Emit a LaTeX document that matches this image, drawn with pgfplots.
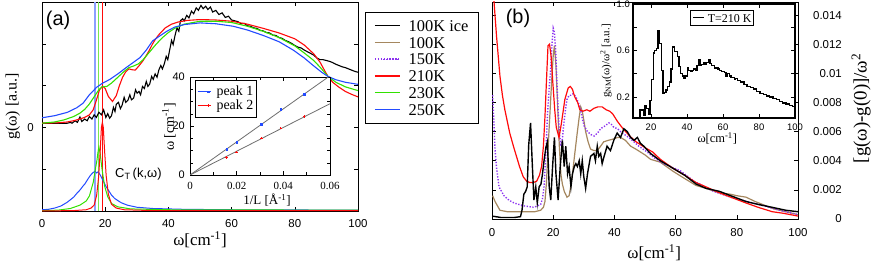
\documentclass[border=0pt]{standalone}
\usepackage{fontspec}
\setmainfont{Liberation Serif}
\setsansfont{Liberation Sans}
\usepackage{pgfplots}
\pgfplotsset{compat=1.18}
\definecolor{ctan}{RGB}{165,135,95}
\definecolor{cpurp}{RGB}{140,50,240}
\definecolor{cgreen}{RGB}{50,225,0}
\definecolor{cblue}{RGB}{35,75,255}
\definecolor{cred}{RGB}{255,10,10}
\definecolor{lblue}{RGB}{140,160,255}
\definecolor{lgreen}{RGB}{120,230,80}
\definecolor{cgray}{RGB}{110,110,110}
\begin{document}
\begin{tikzpicture}
\useasboundingbox (0,0) rectangle (872bp,269bp);
% ================= panel (a) =================
\begin{axis}[at={(42bp,58bp)}, anchor=south west, scale only axis,
  width=316bp, height=209bp,
  xmin=0, xmax=100, ymin=-2, ymax=3,
  axis line style={line width=0.8bp},
  xtick={0,20,40,60,80,100}, xticklabels={0,20,40,60,80,100},
  ytick={-2,-1,0,1,2,3}, yticklabels={,,0,,,},
  tick style={line width=0.6bp, black},
  tick label style={font=\sffamily\fontsize{11.5}{12}\selectfont},
  xticklabel style={anchor=base, yshift=-16bp, inner sep=0pt},
  yticklabel style={anchor=east, xshift=-8bp, inner sep=0pt},
  every axis x label/.style={at={(axis description cs:0.5,-0.139)}, anchor=center},
  every axis y label/.style={at={(axis description cs:-0.092,0.5)}, rotate=90, anchor=center},
  xlabel={\fontsize{17}{18}\selectfont ω[cm\textsuperscript{-1}]},
  ylabel={\fontsize{16}{17}\selectfont g(ω) [a.u.]},
  legend image code/.code={\path (0bp,0bp) -- (25bp,0bp); \draw[line width=1.3bp,#1] (8bp,0bp) -- (25bp,0bp);},
  legend style={at={(1.022,0.954)}, anchor=north west, draw=black,
    font=\fontsize{16.5}{17}\selectfont, inner xsep=9bp, inner ysep=7bp,
    nodes={inner sep=1bp, text height=11.5bp, text depth=0bp},
    row sep=3.3bp, column sep=7bp, cells={anchor=west}},
]
% vertical lines
\addplot[forget plot, lblue, line width=1.1bp] coordinates {(16.5,-2) (16.5,3)};
\addplot[forget plot, lblue, line width=1.1bp] coordinates {(17.0,-2) (17.0,3)};
\addplot[forget plot, lgreen, line width=1.1bp] coordinates {(17.9,-2) (17.9,3)};
\addplot[forget plot, cred, line width=1.0bp] coordinates {(19.2,-2) (19.2,3)};
% g(omega) 100K ice
\addplot[forget plot, black, line width=1.1bp] coordinates {
(0,0.1) (8,0.1) (9,0.12) (9.5,0.1) (10.5,0.16) (11.2,0.12) (12,0.25) (12.6,0.14) (13.5,0.2) (14.3,0.16) (15,0.26) (15.8,0.2) (16.5,0.3) (17.2,0.24) (18,0.36) (18.8,0.3) (19.5,0.42) (20.2,0.24) (20.8,0.33) (21.4,0.22) (22,0.28) (22.6,0.48) (23.1,0.38) (23.5,0.55) (24.2,0.6) (24.8,0.45) (25.3,0.52) (26,0.72) (26.5,0.6) (27.2,0.65) (27.8,0.78) (28.3,0.66) (29,0.7) (29.6,0.9) (30.1,0.82) (30.7,0.86) (31.2,0.78) (31.8,0.98) (32.4,0.93) (33,1.1) (33.5,0.98) (34.1,1.04) (34.7,1.22) (35.2,1.15) (35.8,1.28) (36.4,1.2) (37,1.38) (37.6,1.48) (38.1,1.4) (38.7,1.52) (39.3,1.7) (39.8,1.62) (40.4,1.85) (41,2.08) (41.5,1.98) (42.1,2.2) (42.7,2.38) (43.3,2.3) (43.8,2.55) (44.5,2.6) (45,2.55) (45.8,2.68) (46.5,2.62) (47.3,2.78) (48,2.72) (48.8,2.86) (49.5,2.8) (50.3,2.92) (51,2.84) (51.8,2.9) (52.5,2.82) (53.3,2.88) (54,2.76) (55,2.8) (56,2.7) (57,2.74) (58,2.63) (59,2.66) (60,2.57) (61,2.55) (62,2.53) (63,2.48) (64,2.49) (65,2.43) (66,2.42) (67,2.38) (68,2.37) (69,2.32) (70,2.31) (71,2.27) (72,2.26) (73,2.21) (74,2.2) (75,2.15) (76,2.13) (77,2.08) (78,2.05) (79,2.01) (80,1.96) (81,1.92) (82,1.9) (83,1.85) (84,1.81) (85,1.77) (86,1.73) (87,1.66) (88,1.62) (89,1.62) (90,1.6) (91,1.58) (92,1.55) (93,1.51) (94,1.48) (95,1.45) (96,1.43) (97,1.4) (98,1.37) (99,1.34) (100,1.32)};
% g(omega) 210K
\addplot[forget plot, cred, line width=1.1bp] coordinates {
(0,0.1) (5,0.11) (8,0.13) (10,0.16) (12,0.2) (13.5,0.24) (15,0.3) (16.2,0.42) (17.2,0.65) (18.2,0.9) (19.2,0.99) (20,0.93) (21,0.74) (22.3,0.62) (23.5,0.76) (24.5,1.0) (25.5,1.2) (26.5,1.33) (27.5,1.4) (28.5,1.38) (29.5,1.37) (31,1.5) (32,1.6) (33,1.72) (34,1.85) (35,2.0) (36,2.12) (37,2.22) (38,2.3) (39,2.38) (41,2.47) (43,2.52) (46,2.56) (50,2.58) (55,2.57) (60,2.54) (65,2.47) (70,2.37) (75,2.26) (80,2.12) (83,1.97) (86,1.76) (88,1.56) (89.5,1.35) (90.5,1.22) (92,1.08) (94,0.96) (96,0.86) (98,0.79) (100,0.73)};
% g(omega) 230K
\addplot[forget plot, cgreen, line width=1.1bp] coordinates {
(0,0.1) (4,0.13) (7,0.18) (10,0.26) (12,0.34) (13.5,0.43) (15,0.56) (16.5,0.73) (18,0.9) (19,0.97) (20.5,0.98) (22,1.06) (24,1.2) (26,1.34) (27.5,1.43) (29,1.47) (30.5,1.52) (32,1.62) (34,1.8) (36,1.98) (38,2.14) (40,2.27) (42,2.37) (45,2.47) (50,2.54) (55,2.54) (60,2.51) (65,2.42) (70,2.3) (75,2.15) (80,1.95) (83,1.78) (86,1.6) (88,1.44) (90.5,1.22) (93,1.08) (96,0.97) (100,0.88)};
% g(omega) 250K
\addplot[forget plot, cblue, line width=1.1bp] coordinates {
(0,0.23) (4,0.28) (8,0.36) (11,0.47) (13,0.58) (15,0.78) (17.3,0.96) (19,1.05) (21.5,1.15) (24,1.28) (26.8,1.44) (29,1.56) (31,1.67) (33,1.85) (35,2.07) (37.5,2.2) (39.5,2.3) (42,2.4) (45,2.46) (50,2.5) (55,2.48) (60.5,2.42) (65,2.33) (70,2.2) (75,2.05) (79.5,1.85) (83,1.66) (86,1.47) (88.5,1.32) (90.5,1.22) (93,1.14) (96,1.08) (100,1.03)};
% C_T curves
\addplot[forget plot, cblue, line width=1.0bp] coordinates {
(0,-1.97) (2,-1.96) (4,-1.93) (6,-1.88) (8,-1.79) (9,-1.73) (10,-1.67) (11,-1.58) (12,-1.5) (13,-1.4) (13.5,-1.36) (14.5,-1.24) (15.2,-1.16) (16,-1.09) (16.8,-1.05) (17.3,-1.09) (17.8,-1.06) (18.5,-1.15) (19.5,-1.3) (20.3,-1.42) (21,-1.5) (22,-1.62) (23,-1.7) (25,-1.8) (27,-1.86) (30,-1.91) (35,-1.94) (45,-1.96) (60,-1.97) (100,-1.98)};
\addplot[forget plot, cgreen, line width=1.0bp] coordinates {
(0,-1.99) (5,-1.98) (9,-1.94) (12,-1.86) (14,-1.76) (15,-1.64) (16.2,-1.32) (17,-0.95) (17.4,-0.78) (17.7,-0.6) (18,-0.47) (18.4,-0.62) (19,-1.0) (19.8,-1.4) (20.8,-1.66) (22,-1.82) (24,-1.9) (28,-1.95) (40,-1.97) (100,-1.98)};
\addplot[forget plot, cred, line width=1.0bp] coordinates {
(0,-2.0) (10,-1.99) (14,-1.97) (15.5,-1.93) (16.5,-1.86) (17.3,-1.62) (17.9,-1.2) (18.4,-0.6) (18.8,0.0) (19.1,0.12) (19.4,0.0) (19.8,-0.55) (20.3,-1.15) (21,-1.6) (22,-1.84) (23.5,-1.93) (26,-1.97) (35,-1.99) (100,-1.99)};
\node[font=\sffamily\fontsize{13}{14}\selectfont] at (axis cs:30.5,-1.12) {C\textsubscript{T}\,(k,ω)};
\node[font=\sffamily\fontsize{20}{20}\selectfont] at (rel axis cs:0.051,0.914) {(a)};
\addlegendimage{black, line width=1.5bp}\addlegendentry{100K ice}
\addlegendimage{ctan, line width=1.3bp}\addlegendentry{100K}
\addlegendimage{cpurp, line width=1.4bp, dash pattern=on 1.3bp off 1.6bp}\addlegendentry{150K}
\addlegendimage{cred, line width=1.3bp}\addlegendentry{210K}
\addlegendimage{cgreen, line width=1.3bp}\addlegendentry{230K}
\addlegendimage{cblue, line width=1.3bp}\addlegendentry{250K}
\end{axis}
% ================= inset (a) =================
\begin{axis}[at={(190bp,94bp)}, anchor=south west, scale only axis,
  width=140bp, height=98bp,
  xmin=0, xmax=0.06, ymin=0, ymax=40,
  scaled x ticks=false, scaled y ticks=false,
  axis background/.style={fill=white},
  axis line style={line width=0.8bp},
  tick style={line width=0.5bp, black},
  xtick={0,0.02,0.04,0.06}, xticklabels={0,0.02,0.04,0.06},
  ytick={0,20,40}, yticklabels={0,20,40},
  minor x tick num=1, minor y tick num=3,
  xticklabel style={font=\fontsize{11}{12}\selectfont, anchor=base, yshift=-14bp, inner sep=0pt},
  yticklabel style={font=\sffamily\fontsize{11}{12}\selectfont, anchor=east, xshift=-5bp, inner sep=0pt},
  every axis x label/.style={at={(axis description cs:0.55,-0.255)}, anchor=center},
  every axis y label/.style={at={(axis description cs:-0.15,0.49)}, rotate=90, anchor=center},
  xlabel={\fontsize{13}{14}\selectfont 1/L [Å\textsuperscript{-1}]},
  ylabel={\fontsize{14}{15}\selectfont ω [cm\textsuperscript{-1}]},
  legend image code/.code={\path (0bp,0bp) -- (13bp,0bp); \draw[#1] plot coordinates {(10.5bp,0bp)};},
  legend style={at={(0.036,0.97)}, anchor=north west, draw=black,
    font=\fontsize{14}{14}\selectfont, inner xsep=2bp, inner ysep=4.5bp,
    nodes={inner sep=0.5bp, text height=10bp, text depth=3bp},
    row sep=0bp, column sep=5.2bp, cells={anchor=west}},
]
\addplot[forget plot, cgray, line width=0.8bp] coordinates {(0,0) (0.06,40.5)};
\addplot[forget plot, cgray, line width=0.8bp] coordinates {(0,0) (0.06,29.1)};
\addplot[cblue, only marks, mark=square*, mark size=0.8bp] coordinates {
(0.0157,10.6) (0.0200,13.4) (0.0306,20.8) (0.0389,26.8) (0.0489,32.9)};
\addlegendentry{peak 1}
\addplot[cred, only marks, mark=+, mark size=1.2bp, line width=0.6bp] coordinates {
(0.0157,7.2) (0.0200,9.3) (0.0306,15.0) (0.0389,19.1) (0.0489,23.8)};
\addlegendentry{peak 2}
\end{axis}
% ================= panel (b) =================
\begin{axis}[at={(492bp,50bp)}, anchor=south west, scale only axis,
  width=306bp, height=217bp,
  xmin=0, xmax=100, ymin=0, ymax=0.0149,
  scaled y ticks=false,
  axis line style={line width=0.8bp},
  tick style={line width=0.6bp, black},
  xtick={0,20,40,60,80,100}, xticklabels={0,20,40,60,80,100},
  ytick={0,0.002,0.004,0.006,0.008,0.01,0.012,0.014},
  yticklabels={0,0.002,0.004,0.006,0.008,0.01,0.012,0.014},
  yticklabel pos=right,
  tick label style={font=\sffamily\fontsize{11.5}{12}\selectfont},
  xticklabel style={anchor=base, yshift=-18bp, inner sep=0pt},
  yticklabel style={anchor=east, xshift=44bp, inner sep=0pt},
  every axis x label/.style={at={(axis description cs:0.53,-0.157)}, anchor=center},
  every axis y label/.style={at={(axis description cs:1.206,0.51)}, rotate=90, anchor=center},
  xlabel={\fontsize{17}{18}\selectfont ω[cm\textsuperscript{-1}]},
  ylabel={\fontsize{19}{20}\selectfont [g(ω)-g(0)]/ω\textsuperscript{2}},
]
% 100K (tan)
\addplot[ctan, line width=1.2bp] coordinates {
(0.2,0.0016) (1,0.0012) (2.6,0.0006) (5,0.0005) (10,0.0005) (14,0.0005) (15.9,0.0006) (16.8,0.0008) (17.3,0.0012) (17.8,0.0025) (18.3,0.0048) (19,0.0075) (19.5,0.0095) (20,0.0112) (20.4,0.0119) (20.9,0.0105) (21.3,0.0085) (21.6,0.007) (22,0.005) (22.5,0.0031) (23,0.0024) (23.6,0.0019) (24.5,0.0015) (25.2,0.0016) (25.7,0.0022) (26.3,0.0031) (27,0.0044) (27.9,0.006) (28.5,0.007) (29,0.0077) (29.5,0.0074) (30,0.0068) (30.6,0.006) (31.4,0.0053) (32.2,0.0048) (33.3,0.0047) (34.4,0.0047) (35.5,0.005) (36.5,0.0053) (38,0.0054) (39.8,0.0055) (41,0.0056) (42,0.0056) (43.6,0.0054) (45.3,0.005) (47,0.0048) (48.5,0.0046) (50,0.0044) (51.8,0.0041) (55,0.0039) (57,0.0036) (59,0.0033) (62,0.0029) (66.7,0.0023) (70,0.0021) (74.3,0.0018) (78,0.0017) (80,0.0016) (83,0.0015) (86,0.0012) (88.4,0.001) (92,0.0007) (96,0.0005) (100,0.0003)};
% 150K (purple dotted)
\addplot[cpurp, line width=1.4bp, dash pattern=on 1.3bp off 1.6bp] coordinates {
(0.2,0.0085) (0.6,0.0068) (1,0.0047) (1.5,0.0035) (2.3,0.0022) (3.9,0.0016) (5.5,0.0013) (7.2,0.0011) (10.4,0.0009) (13.7,0.0008) (15.9,0.001) (16.5,0.0014) (17,0.0022) (17.6,0.0045) (18.1,0.0071) (18.7,0.009) (19.2,0.0104) (19.6,0.012) (20,0.0131) (20.4,0.0128) (20.8,0.0116) (21.2,0.0095) (21.6,0.0075) (22,0.006) (22.5,0.005) (23,0.0055) (23.4,0.0064) (24,0.0075) (24.5,0.0082) (25.2,0.0085) (25.8,0.0085) (26.5,0.0086) (27.4,0.0084) (28.2,0.008) (29,0.0075) (29.5,0.0069) (30.1,0.0064) (31.2,0.006) (32.3,0.0058) (33.4,0.0057) (34.5,0.0059) (35.5,0.0062) (37,0.0064) (38.2,0.0066) (39,0.0065) (39.8,0.0063) (41,0.0062) (42,0.006) (45.3,0.0055) (48,0.005) (50.7,0.0046) (53,0.0042) (56.1,0.0038) (61.6,0.0033) (66,0.0026) (72.4,0.0019) (78,0.0015) (83.3,0.0012) (89,0.0009) (94,0.0006) (100,0.0003)};
% 210K (red)
\addplot[cred, line width=1.2bp] coordinates {
(0.3,0.016) (0.8,0.0145) (1.5,0.0125) (2.6,0.0098) (3.4,0.0085) (4.2,0.0075) (5.8,0.0059) (7,0.005) (8,0.0043) (9,0.0036) (10.2,0.0029) (11.3,0.0026) (12.4,0.0025) (13.5,0.0025) (14.6,0.0026) (15.5,0.003) (16.2,0.0036) (16.8,0.005) (17.3,0.007) (17.8,0.0095) (18.3,0.0119) (18.8,0.012) (19.3,0.0112) (19.9,0.0093) (20.5,0.0075) (21,0.0063) (21.9,0.0056) (22.7,0.0066) (23.8,0.0082) (24.9,0.009) (25.6,0.0091) (26.3,0.0089) (27,0.0084) (28,0.008) (28.7,0.0075) (29.7,0.0074) (31,0.0075) (32,0.0074) (33.3,0.0076) (34.6,0.0077) (36,0.0077) (37.3,0.0075) (38.5,0.0074) (39.5,0.0072) (41,0.0067) (42.8,0.0062) (45,0.0057) (47.1,0.0053) (50,0.0049) (52.5,0.0046) (55,0.0041) (59,0.0035) (63,0.003) (66.7,0.0025) (70,0.0022) (74.3,0.0018) (78,0.0015) (83,0.0011) (87,0.0008) (91.6,0.0005) (95,0.0004) (100,0.0002)};
% 100K ice (black)
\addplot[black, line width=1.4bp] coordinates {
(0,0.0002) (3,0.0001) (7.2,0.0001) (9.3,0.00016) (9.8,0.0006) (10.4,0.0017) (11,0.0019) (11.5,0.0022) (12,0.0051) (12.6,0.0066) (13.2,0.0036) (13.7,0.0013) (14.3,0.0022) (14.8,0.0011) (15.4,0.0022) (16,0.0024) (16.5,0.0031) (17,0.004) (17.6,0.0049) (18.1,0.0053) (18.7,0.0022) (19.2,0.0013) (19.8,0.0036) (20.4,0.0056) (20.9,0.0031) (21.6,0.0013) (22.3,0.0036) (23,0.0054) (23.6,0.0036) (24.1,0.005) (24.7,0.0031) (25.2,0.0036) (25.8,0.0022) (26.3,0.0031) (26.9,0.0036) (27.4,0.0038) (27.9,0.0036) (28.5,0.004) (29,0.0031) (29.5,0.004) (30,0.0029) (30.6,0.0021) (31.2,0.0031) (32.2,0.0043) (33.3,0.0045) (33.8,0.004) (34.4,0.005) (34.9,0.0043) (35.5,0.0045) (36,0.0038) (36.5,0.0042) (37.6,0.005) (38.7,0.0047) (39.8,0.0054) (40.9,0.0059) (42,0.0056) (43.1,0.0062) (44.2,0.006) (45.3,0.0056) (46.4,0.0054) (47.5,0.0056) (48.5,0.0052) (49.6,0.005) (51.8,0.0045) (55,0.004) (59,0.0035) (63,0.003) (66.7,0.0024) (70,0.0021) (74.3,0.0019) (78,0.0016) (83,0.0012) (87,0.001) (91.6,0.0008) (96,0.0006) (100,0.0005)};
\node[font=\sffamily\fontsize{20}{20}\selectfont] at (rel axis cs:0.085,0.926) {(b)};
\end{axis}
% ================= inset (b) =================
\begin{axis}[at={(633bp,151bp)}, anchor=south west, scale only axis,
  width=162bp, height=114bp,
  xmin=10, xmax=100, ymin=0.02, ymax=1.0,
  axis background/.style={fill=white},
  axis line style={line width=1.5bp},
  tick style={line width=0.6bp, black},
  xtick={20,40,60,80,100}, xticklabels={20,40,60,80,100},
  ytick={0.2,0.4,0.6,0.8,1.0}, yticklabels={0.2,,0.6,,1.0},
  tick label style={font=\sffamily\fontsize{9.5}{10}\selectfont},
  xticklabel style={anchor=base, yshift=-12.5bp, inner sep=0pt},
  yticklabel style={anchor=east, xshift=-3bp, inner sep=0pt},
  every axis x label/.style={at={(axis description cs:0.52,-0.18)}, anchor=center},
  every axis y label/.style={at={(axis description cs:-0.167,0.5)}, rotate=90, anchor=center},
  xlabel={\fontsize{12.5}{13}\selectfont ω[cm\textsuperscript{-1}]},
  ylabel={\fontsize{11}{12}\selectfont g\textsubscript{NM}(ω)/ω\textsuperscript{2} [a.u.]},
  legend image code/.code={\path (0bp,0bp) -- (10.5bp,0bp); \draw[#1] (1.5bp,0bp) -- (10.5bp,0bp);},
  legend style={at={(0.352,0.947)}, anchor=north west, draw=black, line width=1bp,
    font=\fontsize{12}{12}\selectfont, inner xsep=2bp, inner ysep=2.5bp,
    nodes={inner sep=0.5bp, text height=8.5bp, text depth=0bp},
    column sep=3bp, cells={anchor=west}},
]
\addplot[black, line width=1.3bp, const plot mark left] coordinates {
(13.4,0.0) (13.9,0.09) (15.7,0.04) (16.7,0.13) (17.6,0.10) (18.5,0.05) (19.4,0.17) (20.3,0.35) (21.2,0.58) (22.1,0.60) (23.0,0.62) (23.9,0.77) (24.8,0.66) (25.7,0.43) (26.6,0.23) (27.5,0.24) (28.4,0.26) (29.3,0.29) (30.2,0.33) (31.1,0.44) (32.0,0.63) (32.9,0.59) (33.8,0.59) (34.7,0.55) (35.6,0.46) (36.5,0.40) (37.4,0.38) (38.3,0.36) (39.2,0.38) (40.1,0.45) (41.0,0.43) (41.9,0.42) (42.8,0.43) (43.7,0.44) (44.6,0.43) (45.5,0.47) (46.4,0.52) (47.3,0.47) (48.2,0.48) (49.1,0.50) (50.0,0.48) (50.9,0.50) (51.8,0.52) (52.7,0.49) (53.6,0.47) (54.5,0.47) (55.4,0.45) (56.3,0.45) (57.2,0.44) (58.1,0.43) (59.0,0.42) (60.8,0.41) (61.7,0.38) (62.6,0.40) (63.5,0.38) (64.4,0.37) (65.3,0.37) (66.2,0.35) (67.1,0.36) (68.0,0.34) (69.8,0.33) (71.6,0.31) (73.4,0.29) (75.2,0.28) (77.0,0.27) (78.8,0.25) (80.6,0.23) (82.4,0.22) (84.2,0.21) (86.0,0.20) (87.8,0.19) (89.6,0.18) (91.4,0.16) (93.2,0.15) (95.0,0.14) (96.8,0.13) (98.6,0.12) (100,0.12)};
\addlegendentry{T=210 K}
\end{axis}
\end{tikzpicture}
\end{document}
